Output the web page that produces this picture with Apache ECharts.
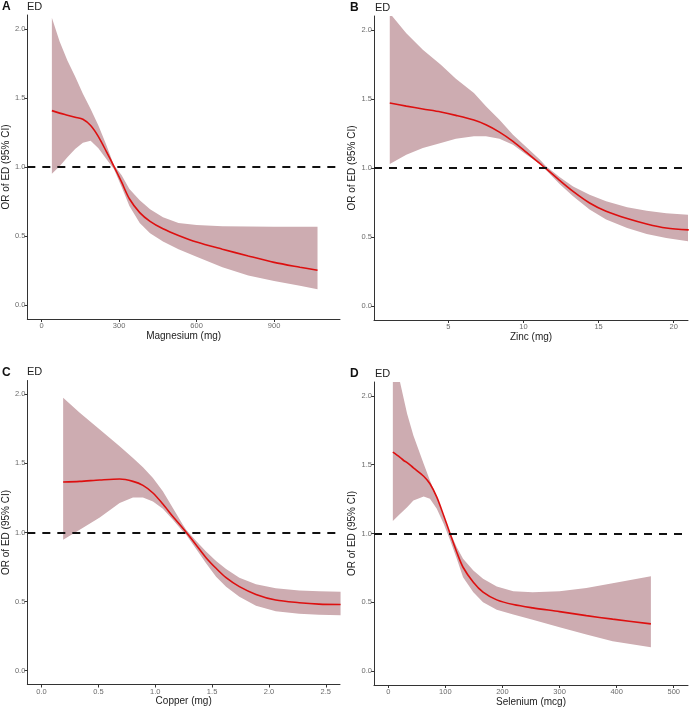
<!DOCTYPE html>
<html>
<head>
<meta charset="utf-8">
<script src="https://cdn.jsdelivr.net/npm/echarts@6/dist/echarts.min.js"></script>
<style>html,body{margin:0;padding:0;background:#fff}#c{width:689px;height:708px}</style>
</head>
<body>
<div id="c"></div>
<script>
// ---------- DATA ----------
// Panel A: Magnesium (mg)
const magX  = [40, 70, 100, 130, 160, 190, 220, 250, 280, 310, 340, 380, 420, 470, 530, 600, 700, 800, 900, 1000, 1068];
const magOR = [1.408, 1.39, 1.375, 1.36, 1.345, 1.30, 1.22, 1.115, 1.005, 0.89, 0.77, 0.67, 0.607, 0.553, 0.505, 0.457, 0.405, 0.356, 0.31, 0.275, 0.253];
const magLo = [0.951, 1.006, 1.07, 1.13, 1.175, 1.19, 1.135, 1.06, 0.985, 0.855, 0.717, 0.595, 0.52, 0.46, 0.405, 0.35, 0.275, 0.215, 0.175, 0.14, 0.116];
const magHi = [2.08, 1.908, 1.77, 1.655, 1.53, 1.42, 1.30, 1.162, 1.015, 0.94, 0.84, 0.76, 0.695, 0.636, 0.595, 0.58, 0.572, 0.569, 0.568, 0.568, 0.568];

// Panel B: Zinc (mg)
const zincX  = [1.1, 2.2, 3.3, 4.5, 5.5, 6.7, 7.5, 8.4, 9.3, 10.2, 11.1, 11.5, 12.4, 13.3, 14.4, 15.5, 16.9, 18.2, 19.5, 21.0];
const zincOR = [1.47, 1.448, 1.427, 1.405, 1.381, 1.347, 1.313, 1.26, 1.193, 1.113, 1.031, 0.995, 0.911, 0.831, 0.747, 0.687, 0.634, 0.595, 0.566, 0.552];
const zincLo = [1.029, 1.096, 1.145, 1.181, 1.212, 1.229, 1.229, 1.212, 1.169, 1.096, 1.029, 0.986, 0.884, 0.795, 0.699, 0.627, 0.566, 0.523, 0.494, 0.47];
const zincHi = [2.12, 1.976, 1.855, 1.747, 1.646, 1.542, 1.446, 1.349, 1.241, 1.15, 1.06, 1.012, 0.935, 0.867, 0.807, 0.759, 0.716, 0.69, 0.672, 0.662];

// Panel C: Copper (mg)
const cuX  = [0.19, 0.336, 0.512, 0.687, 0.804, 0.892, 0.98, 1.067, 1.155, 1.243, 1.272, 1.36, 1.447, 1.535, 1.623, 1.74, 1.886, 2.06, 2.266, 2.44, 2.63];
const cuOR = [1.366, 1.37, 1.38, 1.387, 1.37, 1.341, 1.286, 1.206, 1.116, 1.031, 1.002, 0.91, 0.818, 0.741, 0.673, 0.608, 0.552, 0.511, 0.492, 0.482, 0.479];
const cuLo = [0.947, 1.019, 1.109, 1.213, 1.254, 1.254, 1.225, 1.172, 1.092, 1.007, 0.983, 0.881, 0.777, 0.68, 0.608, 0.535, 0.47, 0.431, 0.412, 0.404, 0.402];
const cuHi = [1.976, 1.867, 1.746, 1.625, 1.54, 1.472, 1.395, 1.298, 1.177, 1.056, 1.019, 0.939, 0.862, 0.794, 0.736, 0.673, 0.625, 0.596, 0.581, 0.575, 0.572];

// Panel D: Selenium (mcg)
const seX  = [8, 20, 27, 33, 44, 62, 73, 85, 97, 108, 120, 131, 149, 166, 190, 219, 253, 300, 347, 393, 460];
const seOR = [1.591, 1.555, 1.53, 1.515, 1.477, 1.416, 1.361, 1.264, 1.131, 1.002, 0.864, 0.755, 0.646, 0.574, 0.518, 0.484, 0.46, 0.433, 0.404, 0.378, 0.344];
const seLo = [1.09, 1.14, 1.167, 1.19, 1.24, 1.269, 1.252, 1.179, 1.07, 0.954, 0.816, 0.683, 0.574, 0.501, 0.446, 0.412, 0.373, 0.32, 0.266, 0.218, 0.174];
const seHi = [2.3, 2.11, 1.98, 1.869, 1.712, 1.506, 1.385, 1.264, 1.119, 1.01, 0.90, 0.816, 0.731, 0.671, 0.615, 0.581, 0.574, 0.581, 0.605, 0.639, 0.69];

// Axis ticks
const yTicks = [0, 0.5, 1.0, 1.5, 2.0];
const magTicks = [0, 300, 600, 900];
const zincTicks = [5, 10, 15, 20];
const cuTicks = [0, 0.5, 1.0, 1.5, 2.0, 2.5];
const seTicks = [0, 100, 200, 300, 400, 500];

const panelLetters = ['A', 'B', 'C', 'D'];
const panelTitle = 'ED';
const xNames = ['Magnesium (mg)', 'Zinc (mg)', 'Copper (mg)', 'Selenium (mcg)'];
const yName = 'OR of ED (95% CI)';
const refLine = 1;

// ---------- CHART ----------
const panels = [
  {x: magX, or: magOR, lo: magLo, hi: magHi, ticks: magTicks, xmin: -55, xmax: 1155, fmt: v => String(v),
   grid: {left: 26, top: 15, width: 314, height: 304}},
  {x: zincX, or: zincOR, lo: zincLo, hi: zincHi, ticks: zincTicks, xmin: 0.05, xmax: 20.95, fmt: v => String(v),
   grid: {left: 374, top: 16, width: 314, height: 304}},
  {x: cuX, or: cuOR, lo: cuLo, hi: cuHi, ticks: cuTicks, xmin: -0.125, xmax: 2.625, fmt: v => v.toFixed(1),
   grid: {left: 26, top: 380.5, width: 314, height: 304}},
  {x: seX, or: seOR, lo: seLo, hi: seHi, ticks: seTicks, xmin: -25, xmax: 525, fmt: v => String(v),
   grid: {left: 374, top: 382, width: 314, height: 304}}
];

const BAND = '#cdacb1';
const LINE = '#dd0f0f';
const AXIS = '#333333';
const TICKTXT = '#6b6b6b';
const FONT = 'Liberation Sans, Arial, sans-serif';

const grids = [], xAxes = [], yAxes = [], series = [], titles = [];
panels.forEach((p, i) => {
  grids.push(Object.assign({containLabel: false}, p.grid));
  xAxes.push({
    type: 'value', gridIndex: i, min: p.xmin, max: p.xmax,
    name: xNames[i], nameLocation: 'middle', nameGap: 12,
    nameTextStyle: {color: '#222', fontSize: 10, fontFamily: FONT},
    axisLine: {show: true, onZero: false, lineStyle: {color: AXIS, width: 1}},
    axisTick: {show: true, length: 3, customValues: p.ticks, lineStyle: {color: AXIS}},
    axisLabel: {customValues: p.ticks, formatter: p.fmt, color: TICKTXT, fontSize: 7.5, margin: 3, fontFamily: FONT},
    splitLine: {show: false}
  });
  yAxes.push({
    type: 'value', gridIndex: i, min: -0.1, max: 2.1,
    name: yName, nameLocation: 'middle', nameGap: 16,
    nameTextStyle: {color: '#222', fontSize: 10, fontFamily: FONT},
    axisLine: {show: true, onZero: false, lineStyle: {color: AXIS, width: 1}},
    axisTick: {show: true, length: 3, customValues: yTicks, lineStyle: {color: AXIS}},
    axisLabel: {customValues: yTicks, formatter: v => v.toFixed(1), color: TICKTXT, fontSize: 7.5, margin: 2, fontFamily: FONT},
    splitLine: {show: false}
  });
  // confidence band: one polygon built from the data through the axes
  series.push({
    type: 'custom', xAxisIndex: i, yAxisIndex: i, clip: true, silent: true, z: 1,
    data: p.x.map((x, k) => [x, p.lo[k], p.hi[k]]),
    encode: {x: 0, y: [1, 2]},
    renderItem: (params, api) => {
      if (params.dataIndex !== 0) return null;
      const pts = [];
      for (let k = 0; k < p.x.length; k++) pts.push(api.coord([p.x[k], p.hi[k]]));
      for (let k = p.x.length - 1; k >= 0; k--) pts.push(api.coord([p.x[k], p.lo[k]]));
      return {type: 'polygon', shape: {points: pts}, style: {fill: BAND, stroke: null}};
    }
  });
  series.push({
    type: 'line', xAxisIndex: i, yAxisIndex: i, smooth: 0.3, symbol: 'none', silent: true, z: 3,
    lineStyle: {color: LINE, width: 1.6},
    data: p.x.map((x, k) => [x, p.or[k]]),
    markLine: {
      silent: true, symbol: 'none', label: {show: false}, z: 4,
      lineStyle: {color: '#111', width: 2, type: [8, 7]},
      data: [{yAxis: refLine}]
    }
  });
  const gx = p.grid.left, gy = p.grid.top;
  titles.push({text: panelLetters[i], left: gx - 24, top: gy - 14,
    textStyle: {fontSize: 12, fontWeight: 'bold', color: '#111', fontFamily: FONT}, padding: 0});
  titles.push({text: panelTitle, left: gx + 1, top: gy - 14,
    textStyle: {fontSize: 11, fontWeight: 'normal', color: '#222', fontFamily: FONT}, padding: 0});
});

const chart = echarts.init(document.getElementById('c'), null, {renderer: 'canvas'});
chart.setOption({
  animation: false,
  backgroundColor: '#ffffff',
  title: titles,
  grid: grids,
  xAxis: xAxes,
  yAxis: yAxes,
  series: series
});
</script>
</body>
</html>
